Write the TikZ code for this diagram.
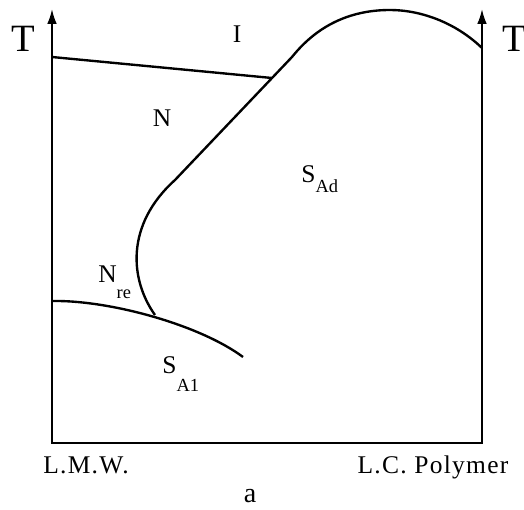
\documentclass[tikz,border=0pt]{standalone}
\usepackage{fontspec}
\setmainfont{Liberation Serif}
\newfontfamily\lblfont[LetterSpace=5]{Liberation Serif}
\usetikzlibrary{arrows.meta}

% phase name with a lowered subscript
\newcommand{\phsub}[3]{#1\raisebox{-#3}{\fontsize{10.5}{10.5}\selectfont #2}}

\begin{document}
\begin{tikzpicture}[x=0.02cm,y=-0.02cm,
  axis/.style={line width=1.1pt,{Latex[length=8.5pt,width=5.5pt]}-{Latex[length=8.5pt,width=5.5pt]}},
  bound/.style={line width=1.35pt},
  phase/.style={font=\fontsize{14.5}{14.5}\selectfont,inner sep=0pt,anchor=base west},
  axlab/.style={font=\lblfont\fontsize{14.5}{14.5}\selectfont,inner sep=0pt,anchor=base}]
\useasboundingbox (0,0) rectangle (524,510);
% frame with the two T axes
\coordinate (tl) at (52,9);
\coordinate (o) at (52,443);
\coordinate (e) at (482,443);
\coordinate (tr) at (482,9);
\draw[axis] (tl)--(o)--(e)--(tr);
\node[font=\fontsize{22}{22}\selectfont,inner sep=0pt,anchor=base] (Tl) at (23,52){T};
\node[font=\fontsize{22}{22}\selectfont,inner sep=0pt,anchor=base] (Tr) at (514,52){T};
% phase boundaries
\coordinate (ni) at (52,57);
\coordinate (nis) at (272,78);
\coordinate (sa) at (52,301);
\coordinate (jn) at (155,315);
\coordinate (bend) at (175,180);
\coordinate (knee) at (292,57);
\coordinate (peak) at (390,10);
\coordinate (top) at (482,48);
\draw[bound] (ni)--(nis);
\draw[bound] (jn) .. controls (130,280) and (125,225) .. (bend)--(knee)
  .. controls (320,22) and (355,10) .. (peak)
  .. controls (420,10) and (455,22) .. (top);
\draw[bound] (sa) .. controls (110,300) and (200,325) .. (243,357);
% phase labels
\node[phase,anchor=base] (iso) at (237,43){I};
\node[phase,anchor=base] (nem) at (162,127){N};
\node[phase] (sad) at (301,182){\phsub{S}{Ad}{6.2pt}};
\node[phase] (nre) at (98,282){\phsub{N}{re}{9.6pt}};
\node[phase] (sa1) at (162,373){\phsub{S}{A1}{10.8pt}};
% x labels
\node[axlab] (lmw) at (86,473){L.M.W.};
\node[axlab] (lcp) at (433,473){L.C.\ Polymer};
\node[font=\fontsize{16}{16}\selectfont,inner sep=0pt,anchor=base] (cap) at (250,502){a};
\end{tikzpicture}
\end{document}
